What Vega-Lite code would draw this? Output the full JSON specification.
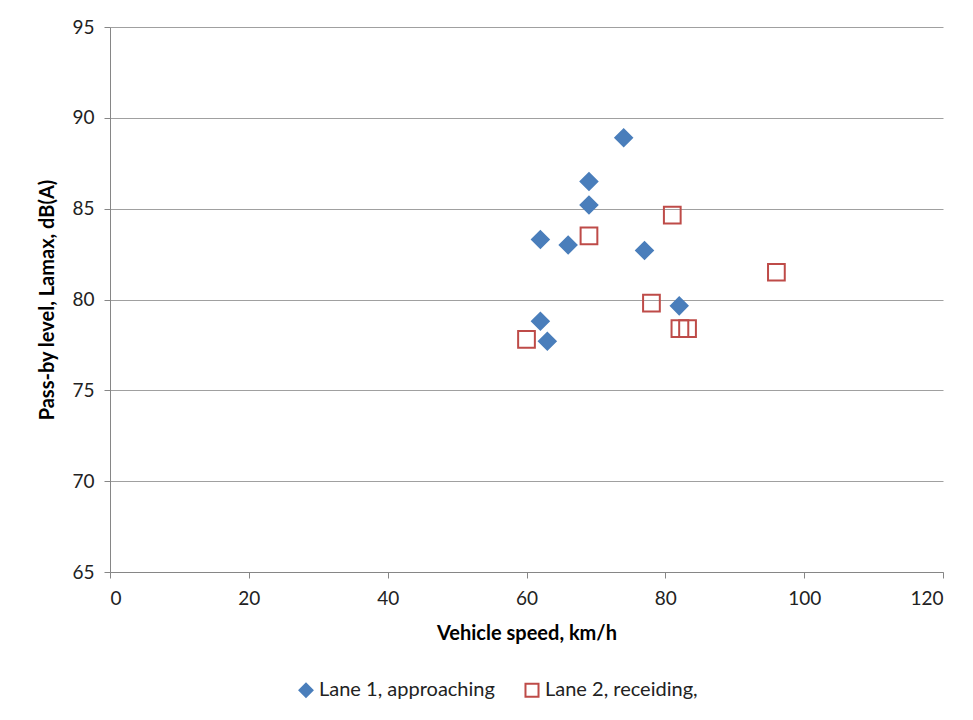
{
  "$schema": "https://vega.github.io/schema/vega-lite/v6.json",
  "autosize": "none",
  "width": 833,
  "height": 545,
  "padding": {"left": 110, "top": 27, "right": 30, "bottom": 148},
  "background": "white",
  "config": {
    "view": {"stroke": null},
    "font": "Lato",
    "axis": {"labelFont": "Lato", "titleFont": "Lato"},
    "legend": {"labelFont": "Lato"}
  },
  "data": {
    "values": [
      {"speed": 74, "level": 88.9, "series": "Lane 1, approaching"},
      {"speed": 69, "level": 86.5, "series": "Lane 1, approaching"},
      {"speed": 69, "level": 85.2, "series": "Lane 1, approaching"},
      {"speed": 62, "level": 83.3, "series": "Lane 1, approaching"},
      {"speed": 66, "level": 83.0, "series": "Lane 1, approaching"},
      {"speed": 77, "level": 82.7, "series": "Lane 1, approaching"},
      {"speed": 82, "level": 79.65, "series": "Lane 1, approaching"},
      {"speed": 62, "level": 78.8, "series": "Lane 1, approaching"},
      {"speed": 63, "level": 77.7, "series": "Lane 1, approaching"},
      {"speed": 81, "level": 84.65, "series": "Lane 2, receiding,"},
      {"speed": 69, "level": 83.5, "series": "Lane 2, receiding,"},
      {"speed": 96, "level": 81.5, "series": "Lane 2, receiding,"},
      {"speed": 78, "level": 79.8, "series": "Lane 2, receiding,"},
      {"speed": 60, "level": 77.8, "series": "Lane 2, receiding,"},
      {"speed": 82.1, "level": 78.4, "series": "Lane 2, receiding,"},
      {"speed": 83.2, "level": 78.4, "series": "Lane 2, receiding,"}
    ]
  },
  "mark": {"type": "point", "strokeWidth": 2, "opacity": 1, "size": 280},
  "encoding": {
    "x": {
      "field": "speed", "type": "quantitative",
      "scale": {"domain": [0, 120], "nice": false},
      "axis": {
        "title": "Vehicle speed, km/h", "values": [0, 20, 40, 60, 80, 100, 120],
        "grid": false, "domainColor": "#868686", "tickColor": "#868686", "tickSize": 6,
        "labelFontSize": 19, "labelColor": "#222", "labelPadding": 11,
        "titleFontSize": 20, "titleFontWeight": "bold", "titleColor": "#000", "titlePadding": 15
      }
    },
    "y": {
      "field": "level", "type": "quantitative",
      "scale": {"domain": [65, 95], "nice": false, "zero": false},
      "axis": {
        "title": "Pass-by level, Lamax, dB(A)", "values": [65, 70, 75, 80, 85, 90, 95],
        "grid": true, "gridColor": "#a0a0a0", "gridWidth": 1,
        "domainColor": "#868686", "tickColor": "#868686", "tickSize": 6,
        "labelFontSize": 19, "labelColor": "#222", "labelPadding": 10,
        "titleFontSize": 20, "titleFontWeight": "bold", "titleColor": "#000", "titlePadding": 14
      }
    },
    "shape": {
      "field": "series", "type": "nominal",
      "scale": {"domain": ["Lane 1, approaching", "Lane 2, receiding,"], "range": ["diamond", "square"]},
      "legend": {
        "title": null, "orient": "none", "legendX": 186, "legendY": 653, "direction": "horizontal",
        "labelFontSize": 20, "labelColor": "#222", "symbolSize": 170, "columnPadding": 26,
        "symbolStrokeWidth": 2, "labelOffset": 3, "labelLimit": 400
      }
    },
    "fill": {
      "field": "series", "type": "nominal",
      "scale": {"domain": ["Lane 1, approaching", "Lane 2, receiding,"], "range": ["#4a7ebb", "transparent"]}
    },
    "stroke": {
      "field": "series", "type": "nominal",
      "scale": {"domain": ["Lane 1, approaching", "Lane 2, receiding,"], "range": ["#4a7ebb", "#be4b48"]}
    }
  }
}
